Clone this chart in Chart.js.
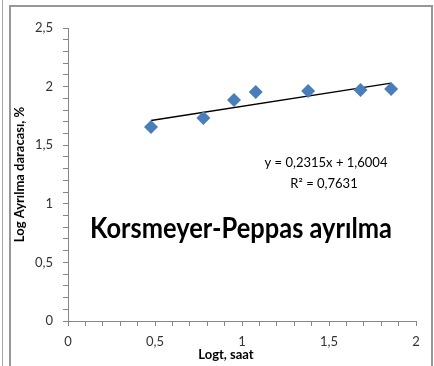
<!DOCTYPE html>
<html lang="tr">
<head>
    <meta charset="UTF-8">
    <title>Korsmeyer-Peppas ayrılma</title>
    <script src="https://cdn.jsdelivr.net/npm/chart.js"></script>
    <style>
        body {
            margin: 0;
            background-color: white;
        }
        #chart {
            display: block;
        }
    </style>
</head>
<body>
    <canvas id="chart" width="434" height="366"></canvas>

    <script>
        // log t (saat) ve log ayrılma derecesi (%)
        const logT = [0.477, 0.778, 0.954, 1.079, 1.380, 1.681, 1.857];
        const logRelease = [1.655, 1.732, 1.886, 1.954, 1.962, 1.971, 1.980];

        // doğrusal eğilim çizgisi: y = 0,2315x + 1,6004
        const slope = 0.2315;
        const intercept = 1.6004;
        const rSquared = 0.7631;

        const xTitle = 'Logt, saat';
        const yTitle = 'Log Ayrılma daracası, %';
        const plotTitle = 'Korsmeyer-Peppas ayrılma';

        const fmt = v => String(v).replace('.', ',');
        const half = v => Math.abs(v * 2 - Math.round(v * 2)) < 1e-6;

        const points = logT.map((x, i) => ({ x: x, y: logRelease[i] }));
        const xFirst = logT[0];
        const xLast = logT[logT.length - 1];
        const trend = [
            { x: xFirst, y: slope * xFirst + intercept },
            { x: xLast, y: slope * xLast + intercept }
        ];

        const textFont = 'Lato, "DejaVu Sans", sans-serif';

        // çerçeve ve yazılar
        const decor = {
            id: 'decor',
            beforeDraw(chart) {
                const c = chart.ctx;
                c.save();
                c.fillStyle = 'white';
                c.fillRect(0, 0, chart.width, chart.height);
                c.strokeStyle = '#a6a6a6';
                c.lineWidth = 1;
                c.beginPath();
                c.moveTo(2.5, 0);
                c.lineTo(2.5, chart.height);
                c.stroke();
                c.strokeStyle = '#979797';
                c.lineWidth = 2;
                c.beginPath();
                c.moveTo(10, chart.height);
                c.lineTo(10, 6);
                c.lineTo(432, 6);
                c.lineTo(432, chart.height);
                c.stroke();
                c.restore();
            },
            afterDraw(chart) {
                const c = chart.ctx;
                c.save();
                c.fillStyle = '#000';
                c.textAlign = 'center';
                c.textBaseline = 'middle';
                c.font = '13px ' + textFont;
                c.fillText('y = ' + fmt(slope) + 'x + ' + fmt(intercept), 326, 163);
                c.fillText('R² = ' + fmt(rSquared), 324, 184);
                c.font = 'bold 28px ' + textFont;
                c.textBaseline = 'alphabetic';
                c.fillText(plotTitle, 241, 238, 302);
                c.textBaseline = 'middle';
                c.font = 'bold 13px ' + textFont;
                c.fillText(xTitle, 226, 355);
                c.restore();
            }
        };

        new Chart(document.getElementById('chart'), {
            type: 'scatter',
            data: {
                datasets: [
                    {
                        label: 'Log ayrılma',
                        data: points,
                        pointStyle: 'rectRot',
                        pointRadius: 7,
                        pointHoverRadius: 7,
                        backgroundColor: '#4a7ebb',
                        borderColor: '#4a7ebb',
                        borderWidth: 0
                    },
                    {
                        label: 'Doğrusal',
                        data: trend,
                        showLine: true,
                        pointRadius: 0,
                        borderColor: '#000',
                        borderWidth: 1.3
                    }
                ]
            },
            options: {
                responsive: false,
                animation: false,
                layout: {
                    padding: { top: 28, right: 18, left: 0, bottom: 0 }
                },
                plugins: {
                    legend: { display: false },
                    tooltip: { enabled: false }
                },
                scales: {
                    x: {
                        type: 'linear',
                        min: 0,
                        max: 2,
                        afterFit: s => { s.height = 45; },
                        border: { display: true, color: '#868686', width: 1 },
                        grid: { drawOnChartArea: false, tickLength: 5, color: '#868686' },
                        ticks: {
                            stepSize: 0.1,
                            autoSkip: false,
                            maxRotation: 0,
                            padding: 8,
                            color: '#333',
                            font: { family: textFont, size: 13 },
                            callback: v => half(v) ? fmt(Math.round(v * 10) / 10) : ''
                        }
                    },
                    y: {
                        min: 0,
                        max: 2.5,
                        afterFit: s => { s.width = 68; },
                        border: { display: true, color: '#868686', width: 1 },
                        grid: { drawOnChartArea: false, tickLength: 5, color: '#868686' },
                        title: {
                            display: true,
                            text: yTitle,
                            color: '#000',
                            padding: { top: 12, bottom: 0 },
                            font: { family: textFont, size: 13, weight: 'bold' }
                        },
                        ticks: {
                            stepSize: 0.1,
                            autoSkip: false,
                            padding: 10,
                            color: '#333',
                            font: { family: textFont, size: 13 },
                            callback: v => half(v) ? fmt(Math.round(v * 10) / 10) : ''
                        }
                    }
                }
            },
            plugins: [decor]
        });
    </script>
</body>
</html>
